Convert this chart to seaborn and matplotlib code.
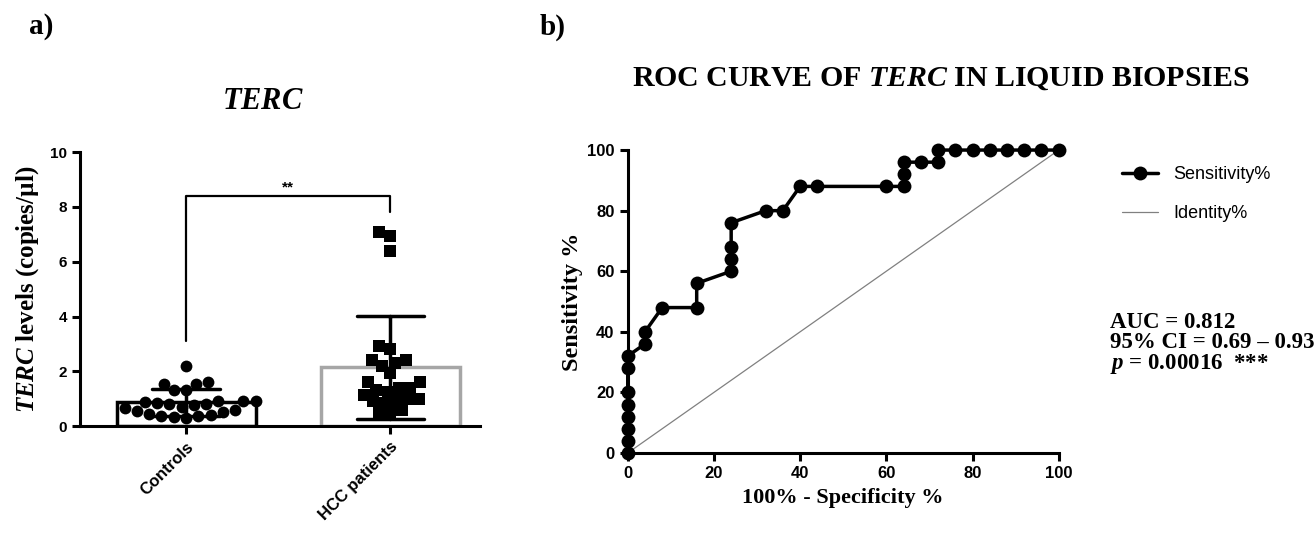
import numpy as np
import pandas as pd
import seaborn as sns
import matplotlib.pyplot as plt

# ---- data ----
groups = ['Controls', 'HCC patients']
controls = [2.2, 1.62, 1.55, 1.55, 1.3, 1.3, 0.92, 0.92, 0.9, 0.88, 0.85, 0.82, 0.8,
            0.75, 0.7, 0.65, 0.6, 0.55, 0.5, 0.45, 0.42, 0.38, 0.35, 0.32, 0.3]
hcc = [7.1, 6.95, 6.4, 2.93, 2.8, 2.42, 2.4, 2.3, 2.2, 1.93, 1.62, 1.6, 1.4, 1.4,
       1.3, 1.25, 1.15, 1.0, 1.0, 0.95, 0.9, 0.85, 0.6, 0.5, 0.5]

spec_100 = [0, 0, 0, 0, 0, 0, 0, 0, 4, 4, 8, 16, 16, 24, 24, 24, 24, 32, 36, 40, 44,
            60, 64, 64, 64, 68, 72, 72, 76, 80, 84, 88, 92, 96, 100]
sensitivity = [0, 4, 8, 12, 16, 20, 28, 32, 36, 40, 48, 48, 56, 60, 64, 68, 76, 80, 80,
               88, 88, 88, 88, 92, 96, 96, 96, 100, 100, 100, 100, 100, 100, 100, 100]
identity = [0, 100]

df = pd.DataFrame({'group': ['Controls'] * len(controls) + ['HCC patients'] * len(hcc),
                   'level': controls + hcc})
roc = pd.DataFrame({'x': spec_100, 'y': sensitivity})

sns.set_theme(style='ticks')
plt.rcParams['font.family'] = ['Liberation Sans', 'DejaVu Sans']
plt.rcParams['text.color'] = 'black'
plt.rcParams['axes.labelcolor'] = 'black'
plt.rcParams['mathtext.fontset'] = 'custom'
plt.rcParams['mathtext.rm'] = 'Liberation Serif:bold'
plt.rcParams['mathtext.it'] = 'Liberation Serif:italic:bold'
plt.rcParams['mathtext.bf'] = 'Liberation Serif:bold'
serif = ['Liberation Serif', 'DejaVu Serif']

fig = plt.figure(figsize=(13.16, 5.39), dpi=100)
ax1 = fig.add_axes([0.0608, 0.2096, 0.304, 0.508])
ax2 = fig.add_axes([0.477, 0.1596, 0.3275, 0.562])

# ---- panel a ----
sns.barplot(data=df, x='group', y='level', order=groups, hue='group', hue_order=groups,
            palette=['white', 'white'], legend=False, errorbar='sd', capsize=0.33,
            width=0.68, linewidth=2.5, err_kws={'color': 'black', 'linewidth': 2.5},
            ax=ax1)
for p, ec in zip(ax1.patches, ['black', '#a6a6a6']):
    p.set_edgecolor(ec)
sns.swarmplot(data=df[df.group == 'Controls'], x='group', y='level', order=groups,
              marker='o', size=8.5, color='black', linewidth=0, zorder=3, ax=ax1)
sns.swarmplot(data=df[df.group == 'HCC patients'], x='group', y='level', order=groups,
              marker='s', size=8, color='black', linewidth=0, zorder=3, ax=ax1)

ax1.plot([0, 0, 1, 1], [3.1, 8.4, 8.4, 7.8], color='black', lw=1.6)
ax1.text(0.5, 8.45, '**', ha='center', va='bottom', fontsize=11, fontweight='bold')

ax1.set_xlim(-0.52, 1.44)
ax1.set_ylim(0, 10)
ax1.set_yticks([0, 2, 4, 6, 8, 10])
ax1.set_xlabel('')
ax1.set_ylabel(r'$\mathit{TERC}$ levels (copies/µl)', family=serif, fontweight='bold',
               fontsize=18, labelpad=6)
ax1.set_xticks([0, 1])
ax1.set_xticklabels(groups, rotation=45, ha='right', rotation_mode='anchor',
                    fontsize=12, fontweight='bold')
for lab in ax1.get_yticklabels():
    lab.set_fontweight('bold')
    lab.set_fontsize(11)

# ---- panel b ----
sns.lineplot(data=roc, x='x', y='y', sort=False, estimator=None, color='black', lw=2.5,
             marker='o', markersize=10, markeredgewidth=0, clip_on=False, zorder=3,
             label='Sensitivity%', ax=ax2)
sns.lineplot(x=identity, y=identity, color='#808080', lw=0.9, label='Identity%', ax=ax2)

ax2.set_xlim(0, 100)
ax2.set_ylim(0, 100)
ax2.set_xticks(range(0, 101, 20))
ax2.set_yticks(range(0, 101, 20))
ax2.set_xlabel('100% - Specificity %', family=serif, fontweight='bold', fontsize=16,
               labelpad=5)
ax2.set_ylabel('Sensitivity %', family=serif, fontweight='bold', fontsize=17.5,
               labelpad=3)
for lab in ax2.get_xticklabels() + ax2.get_yticklabels():
    lab.set_fontweight('bold')
    lab.set_fontsize(12)

ax2.legend(loc='upper left', bbox_to_anchor=(1.11, 1.0), frameon=False, fontsize=13,
           handlelength=2.0, labelspacing=1.2, markerscale=1.0)

for ax in (ax1, ax2):
    sns.despine(ax=ax)
    for s in ('left', 'bottom'):
        ax.spines[s].set_linewidth(2.2)
        ax.spines[s].set_color('black')
    ax.tick_params(width=2.2, length=6, color='black', labelcolor='black')

# ---- text ----
fig.text(29 / 1316, 1 - 27 / 539, 'a)', family=serif, fontweight='bold', fontsize=21,
         va='center')
fig.text(540 / 1316, 1 - 27 / 539, 'b)', family=serif, fontweight='bold', fontsize=21,
         va='center')
fig.text(263 / 1316, 1 - 101 / 539, r'$\mathit{TERC}$', fontsize=22, ha='center',
         va='center')
fig.text(941 / 1316, 1 - 78 / 539, r'ROC CURVE OF $\mathit{TERC}$ IN LIQUID BIOPSIES',
         family=serif, fontweight='bold', fontsize=21.5, ha='center', va='center')
fig.text(1110 / 1316, 1 - 322 / 539, 'AUC = 0.812', family=serif, fontweight='bold',
         fontsize=16.5, va='center')
fig.text(1110 / 1316, 1 - 343 / 539, '95% CI = 0.69 – 0.93', family=serif,
         fontweight='bold', fontsize=16.5, va='center')
fig.text(1110 / 1316, 1 - 364 / 539, r'$\mathit{p}$ = 0.00016  ***', family=serif,
         fontweight='bold', fontsize=16.5, va='center')

fig.savefig('out.png', dpi=100, facecolor='white')
